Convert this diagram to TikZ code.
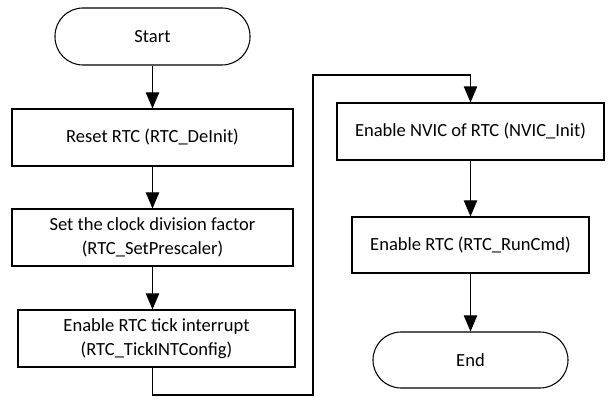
\documentclass[tikz,border=0pt]{standalone}
\usepackage{fontspec}
\setmainfont{Carlito}
\usetikzlibrary{arrows.meta}
\begin{document}
\begin{tikzpicture}[x=0.75pt,y=-0.75pt,
  box/.style={draw=black,line width=0.8pt,fill=white,font=\fontsize{13.9}{18.5}\selectfont,align=center,inner sep=0pt},
  term/.style={draw=black,line width=0.8pt,fill=white,font=\fontsize{13.9}{18.5}\selectfont,rounded corners=21pt,inner sep=0pt},
  conn/.style={draw=black,line width=0.8pt,-{Triangle[length=12pt,width=10pt]}}]
\useasboundingbox (0,0) rectangle (611,409);
\node[term,minimum width=195*0.75pt,minimum height=57*0.75pt] (start) at (152.5,36.5) {Start};
\node[box,minimum width=281*0.75pt,minimum height=57*0.75pt] (reset) at (152.5,137.5) {Reset RTC (RTC\_DeInit)};
\node[box,minimum width=281*0.75pt,minimum height=57*0.75pt] (presc) at (152.5,237.5) {Set the clock division factor\\(RTC\_SetPrescaler)};
\node[box,minimum width=277*0.75pt,minimum height=57*0.75pt] (tick) at (156.5,338.5) {Enable RTC tick interrupt\\(RTC\_TickINTConfig)};
\node[box,minimum width=267*0.75pt,minimum height=57*0.75pt] (nvic) at (470.5,131.5) {Enable NVIC of RTC (NVIC\_Init)};
\node[box,minimum width=237*0.75pt,minimum height=56*0.75pt] (run) at (470.5,245) {Enable RTC (RTC\_RunCmd)};
\node[term,minimum width=195*0.75pt,minimum height=56*0.75pt] (end) at (470.5,360) {End};
\coordinate (c1) at (152.5,395);
\coordinate (c2) at (313,395);
\coordinate (c3) at (313,75);
\coordinate (c4) at (470.5,75);
\draw[conn] (start) -- (reset);
\draw[conn] (reset) -- (presc);
\draw[conn] (presc.south) -- (presc.south |- tick.north);
\draw[conn] (tick.south -| c1) -- (c1) -- (c2) -- (c3) -- (c4) -- (nvic.north);
\draw[conn] (nvic) -- (run);
\draw[conn] (run) -- (end);
\end{tikzpicture}
\end{document}
